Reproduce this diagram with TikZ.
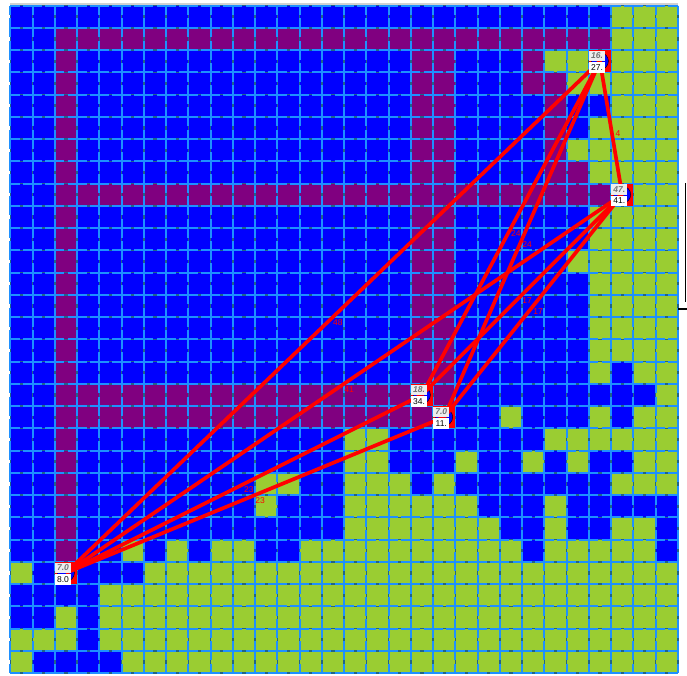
\documentclass[tikz,border=0pt]{standalone}
\usepackage{fontspec}
\setmainfont{Liberation Sans}
\usepackage{xcolor}
\usetikzlibrary{positioning}
\definecolor{cellblue}{HTML}{0000FF}
\definecolor{cellpurple}{HTML}{800080}
\definecolor{cellgreen}{HTML}{9ACD32}
\definecolor{gridblue}{HTML}{1E90FF}
\definecolor{griddark}{HTML}{1F6488}
\begin{document}
\begin{tikzpicture}[
    x=22.25pt, y=-22.25pt,
    gridunder/.style={griddark, line width=1.5pt},
    gridline/.style={gridblue, line width=2pt, dash pattern=on 19pt off 3.25pt, dash phase=9.5pt},
    netcell/.style={draw=none, fill=red, minimum size=22.25pt, inner sep=0pt, outer sep=0pt},
    netdisc/.style={circle, draw=black, thin, fill=cellblue, minimum size=17pt, inner sep=0pt},
    topbox/.style={fill=black!7, text=black!55, minimum width=16pt, minimum height=10.5pt, inner sep=0pt,
                   font=\fontsize{8.5}{9}\selectfont\bfseries\itshape},
    lowbox/.style={fill=white, text=black, minimum width=16pt, minimum height=10.5pt, inner sep=0pt,
                   font=\fontsize{8.5}{9}\selectfont},
    link/.style={red, line width=3.7pt},
    linklbl/.style={text=red, inner sep=0pt, font=\fontsize{8.5}{9}\selectfont, xshift=5pt, yshift=-5.5pt},
  ]
    \useasboundingbox (-10.3pt,5.5pt) rectangle (676.7pt,-669.5pt);
    \fill[cellblue] (0,0) rectangle (30,30);
    % walls
    \foreach \c/\r/\w/\h in {2/1/25/1, 2/8/25/1, 2/2/1/23, 18/2/2/16, 2/17/18/1, 2/18/17/1,
                             23/2/1/2, 24/3/1/5, 25/7/1/1}
      \fill[cellpurple] (\c,\r) rectangle ++(\w,\h);
    % open ground
    \foreach \c/\r/\w/\h in {27/0/3/2, 24/2/2/1, 27/2/3/1, 25/3/5/1, 27/4/3/1, 26/5/4/1, 25/6/5/1, 26/7/4/1,
                             28/8/2/1, 26/9/4/2, 25/11/5/1, 26/12/4/4, 26/16/1/1, 28/16/2/1, 29/17/1/1,
                             22/18/1/1, 26/18/1/1, 28/18/2/1, 15/19/2/1, 24/19/6/1,
                             15/20/2/1, 20/20/1/1, 23/20/1/1, 25/20/1/1, 28/20/2/1,
                             11/21/2/1, 15/21/3/1, 19/21/1/1, 27/21/3/1,
                             11/22/1/1, 15/22/6/1, 24/22/1/1, 15/23/7/1, 24/23/1/1, 27/23/2/1,
                             5/24/1/1, 7/24/1/1, 9/24/2/1, 13/24/10/1, 24/24/5/1,
                             0/25/1/1, 6/25/24/1, 4/26/26/1, 2/27/1/1, 4/27/26/1,
                             0/28/3/1, 4/28/26/1, 0/29/1/1, 5/29/25/1}
      \fill[cellgreen] (\c,\r) rectangle ++(\w,\h);
    % grid
    \foreach \i in {0,...,30} {
      \draw[gridunder] (\i,0) -- (\i,30);
      \draw[gridunder] (0,\i) -- (30,\i);
      \draw[gridline] (\i,0) -- (\i,30);
      \draw[gridline] (0,\i) -- (30,\i);
    }
    \draw[black!18, line width=1.5pt] (0pt,1.5pt) -- (667.5pt,1.5pt);
    \draw[black, line width=1pt] (674.7pt,-177.5pt) -- (674.7pt,-296.5pt);
    \draw[black, line width=2.5pt] (667.7pt,-303.5pt) -- (676.7pt,-303.5pt);

    \node[netcell] (top) at (26.5,2.5) {};
    \node[netcell] (east) at (27.5,8.5) {};
    \node[netcell] (mid) at (18.5,17.5) {};
    \node[netcell] (low) at (19.5,18.5) {};
    \node[netcell] (west) at (2.5,25.5) {};
    \foreach \n in {top,east,mid,low,west}
      \node[netdisc] (\n disc) at (\n) {};

    \draw[link] (top.center) -- node[linklbl, xshift=2pt]{4} (east.center);
    \draw[link] (top.center) -- node[linklbl]{48} (west.center);
    \draw[link] (top.center) -- node[linklbl]{24} (mid.center);
    \draw[link] (top.center) -- node[linklbl]{24} (low.center);
    \draw[link] (east.center) -- node[linklbl]{17} (mid.center);
    \draw[link] (east.center) -- node[linklbl]{17} (low.center);
    \draw[link] (east.center) -- node[linklbl]{41} (west.center);
    \draw[link] (mid.center) -- node[linklbl]{23} (west.center);
    \draw[link] (low.center) -- node[linklbl]{23} (west.center);

    \foreach \n/\u/\v in {top/16./27., east/47./41., mid/18./34., low/7.0/11., west/7.0/8.0} {
      \node[topbox, anchor=north west] (\n up) at ([yshift=-0.6pt]\n.north west) {\u};
      \node[lowbox, below=0.6pt of \n up] (\n val) {\v};
    }
  \end{tikzpicture}
\end{document}
